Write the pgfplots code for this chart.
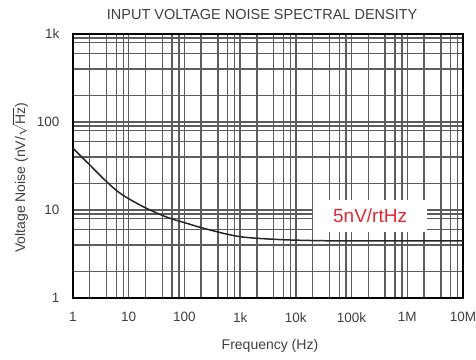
\documentclass[border=0pt]{standalone}
\usepackage{pgfplots}
\pgfplotsset{compat=1.18}
\usepackage{fontspec}
\setmainfont{Liberation Sans}
\definecolor{gridc}{gray}{0.36}
\definecolor{txt}{gray}{0.25}
\definecolor{redtxt}{RGB}{228,40,52}
\begin{document}
\begin{tikzpicture}
\begin{axis}[
  scale only axis,
  width=390bp, height=264bp,
  xmode=log, ymode=log,
  xmin=1, xmax=1e7, ymin=1, ymax=1000,
  xtick={1,2,4,6,8,10,20,40,60,80,100,200,400,600,800,1000,2000,4000,6000,8000,10000,20000,40000,60000,80000,100000,200000,400000,600000,800000,1000000,2000000,4000000,6000000,8000000,10000000},
  xticklabels={1,,,,,10,,,,,100,,,,,1k,,,,,10k,,,,,100k,,,,,1M,,,,,10M},
  ytick={1,2,4,6,8,9,10,20,40,60,80,90,100,200,400,600,800,900,1000},
  yticklabels={1,,,,,,10,,,,,,100,,,,,,1k},
  grid=major,
  major grid style={gridc, line width=1.4bp},
  major tick length=0pt, minor tick length=0pt,
  axis line style={black, line width=1.8bp},
  tick label style={font=\fontsize{13.5bp}{15bp}\selectfont, text=txt},
  xticklabel style={yshift=-11bp},
  yticklabel style={xshift=-10bp},
  clip=false,
]
\addplot[black!85, line width=1.5bp, smooth, tension=0.5] coordinates {
  (1,50.3) (2,32.5) (4,21.0) (7,15.5) (14,11.9) (28,9.57) (55,8.05)
  (110,7.06) (200,6.3) (500,5.43) (1000,4.97) (2000,4.77) (4000,4.65)
  (8000,4.56) (27000,4.48) (100000,4.45) (1000000,4.45) (10000000,4.45)
};
\node[fill=white, minimum width=114bp, minimum height=32bp, inner sep=0pt,
      text=redtxt, font=\fontsize{19bp}{21bp}\selectfont]
  at (axis cs:2.15e5,8.55) {5nV/rtHz};
\node[text=txt, font=\fontsize{14.5bp}{16bp}\selectfont]
  at ([yshift=19bp]rel axis cs:0.485,1) {INPUT VOLTAGE NOISE SPECTRAL DENSITY};
\node[text=txt, font=\fontsize{14bp}{16bp}\selectfont]
  at ([yshift=-48bp]rel axis cs:0.505,0) {Frequency (Hz)};
\node[text=txt, font=\fontsize{14bp}{16bp}\selectfont, rotate=90]
  at ([xshift=-53bp]rel axis cs:0,0.455) {Voltage Noise (nV/$\sqrt{\mbox{Hz}}$)};
\coordinate (sw) at (rel axis cs:0,0);
\coordinate (ne) at (rel axis cs:1,1);
\end{axis}
\pgfresetboundingbox
\path[use as bounding box] ([xshift=-73bp,yshift=-62bp]sw) rectangle ([xshift=13bp,yshift=34bp]ne);
\end{tikzpicture}
\end{document}
